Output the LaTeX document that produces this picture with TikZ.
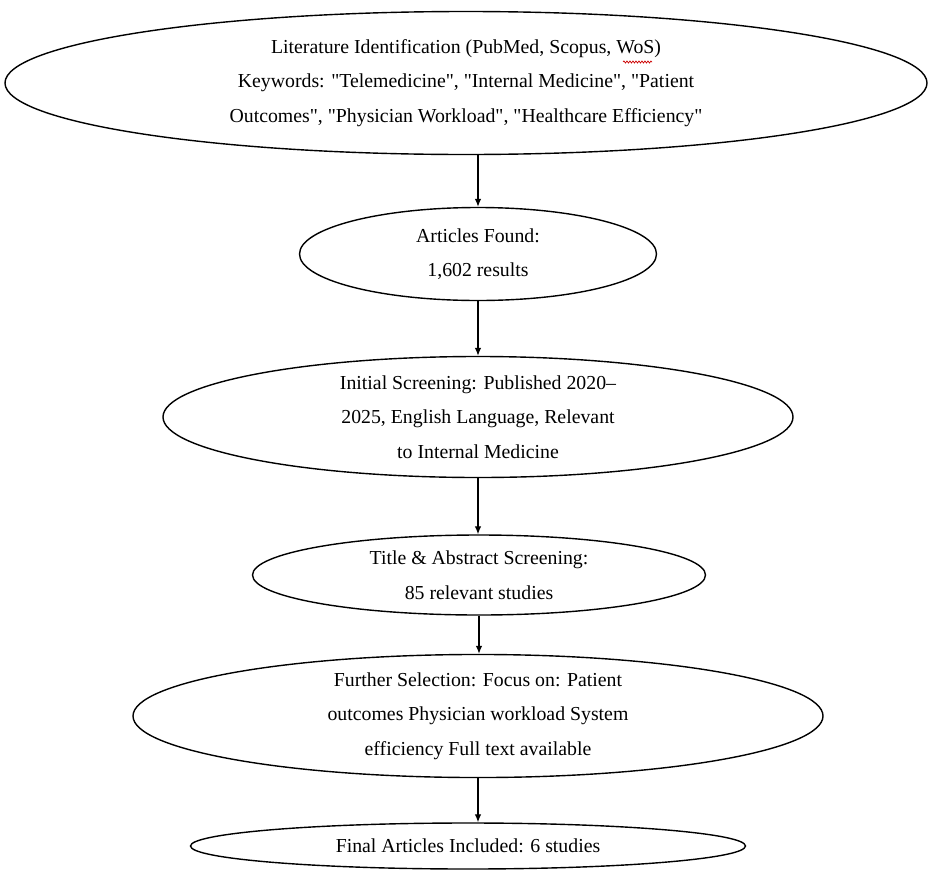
\documentclass[tikz,border=0pt]{standalone}
\usepackage{fontspec}
\setmainfont{Liberation Serif}
\usetikzlibrary{shapes.geometric,arrows.meta,decorations.pathmorphing}
\newcommand\dq{\XeTeXglyph\XeTeXcharglyph"22\relax}
\begin{document}
\begin{tikzpicture}[x=1pt,y=-1pt,
  oval/.style={draw=black,line width=1.4pt,ellipse,inner sep=0pt,
    font=\fontsize{19.8}{34.5}\selectfont,align=center},
  flow/.style={draw=black,line width=1.1pt,-{Latex[length=8pt,width=6.5pt]}},
  squiggle/.style={draw=red!80!black,line width=0.7pt,decorate,
    decoration={snake,amplitude=1pt,segment length=3pt}}]
\useasboundingbox (0,0) rectangle (932,873);
\node[oval,minimum width=922pt,minimum height=143pt] (e1) at (466,83)
  {Literature Identification (PubMed, Scopus, WoS)\\Keywords: \dq{}Telemedicine\dq{}, \dq{}Internal Medicine\dq{}, \dq{}Patient\\Outcomes\dq{}, \dq{}Physician Workload\dq{}, \dq{}Healthcare Efficiency\dq{}};
\node[oval,minimum width=357pt,minimum height=93pt] (e2) at (478,254)
  {Articles Found:\\1,602 results};
\node[oval,minimum width=630pt,minimum height=121pt] (e3) at (478,417)
  {Initial Screening: Published 2020–\\2025, English Language, Relevant\\to Internal Medicine};
\node[oval,minimum width=453pt,minimum height=80pt] (e4) at (479,575)
  {Title \& Abstract Screening:\\85 relevant studies};
\node[oval,minimum width=690pt,minimum height=110pt] (e5) at (478,716)
  {Further Selection: Focus on: Patient\\outcomes Physician workload System\\efficiency Full text available};
\node[oval,minimum width=555pt,minimum height=46pt] (e6) at (468,846)
  {Final Articles Included: 6 studies};
\coordinate (sqa) at (623,62);
\coordinate (sqb) at (652,62);
\draw[squiggle] (sqa) -- (sqb);
\draw[flow] (e2.north |- e1.south) -- (e2.north);
\draw[flow] (e2.south) -- (e3.north -| e2.south);
\draw[flow] (e3.south) -- (e4.north -| e3.south);
\draw[flow] (e4.south) -- (e5.north -| e4.south);
\draw[flow] (e5.south) -- (e6.north -| e5.south);
\end{tikzpicture}
\end{document}
